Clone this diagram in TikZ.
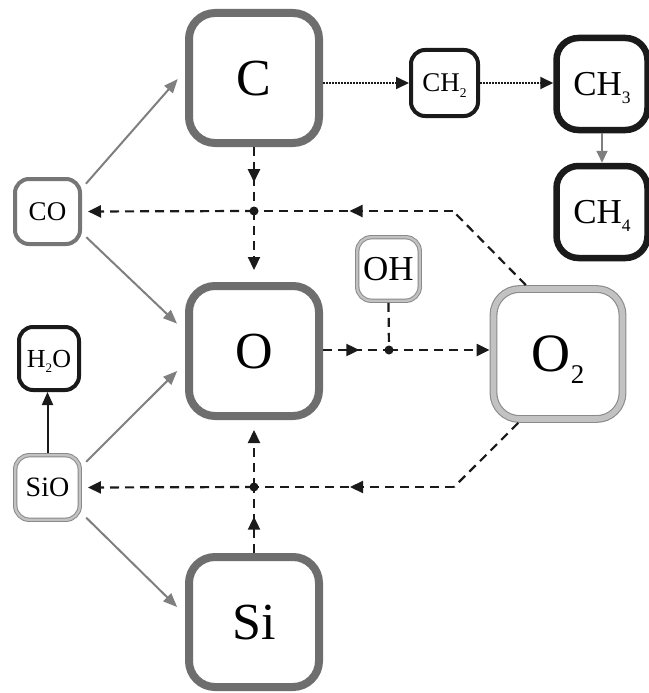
\documentclass[tikz,border=0pt]{standalone}
\usepackage{fontspec}
\setmainfont{Liberation Serif}
\usepackage{graphicx}
\usetikzlibrary{arrows.meta,decorations.markings,calc}

\definecolor{boxgray}{HTML}{6E6E6E}
\definecolor{smallgray}{HTML}{767676}
\definecolor{arrowgray}{HTML}{7F7F7F}
\definecolor{palegray}{HTML}{C2C2C2}
\definecolor{rimgray}{HTML}{8A8A8A}
\definecolor{inkblack}{HTML}{1A1A1A}

% chemical subscript: small, lowered digit
\newcommand\chsub[1]{\raisebox{-0.22em}{\scalebox{0.5}{#1}}}

\begin{document}
\begin{tikzpicture}[x=1pt,y=-1pt,
  every node/.style={inner sep=0pt, text depth=0pt, fill=white},
  bigbox/.style={draw=boxgray, line width=8pt, rounded corners=26pt,
    minimum width=130pt, minimum height=130pt, font=\fontsize{52}{52}\selectfont},
  blackbig/.style={draw=inkblack, line width=6.5pt, rounded corners=22pt,
    minimum width=91pt, minimum height=92pt, font=\fontsize{35}{35}\selectfont},
  blacksmall/.style={draw=inkblack, line width=4pt, rounded corners=14pt},
  graysmall/.style={draw=smallgray, line width=4pt, rounded corners=14pt},
  ringsmall/.style={draw=rimgray, line width=1pt, double=palegray,
    double distance=2.4pt, rounded corners=14pt, outer sep=2.2pt},
  ringbig/.style={draw=rimgray, line width=1.1pt, double=palegray,
    double distance=5.6pt, rounded corners=26pt, minimum width=129pt,
    minimum height=130pt, outer sep=3.9pt, font=\fontsize{54}{54}\selectfont},
  grayarrow/.style={draw=arrowgray, line width=2pt,
    -{Triangle[length=14pt,width=11pt]}, shorten <=6pt, shorten >=11pt},
  blackarrow/.style={draw=inkblack, line width=2pt,
    -{Triangle[length=13pt,width=11pt]}},
  dashline/.style={draw=inkblack, line width=2.2pt, dash pattern=on 9pt off 6pt},
  endtip/.style={-{Triangle[length=13pt,width=12pt]}},
  midtip/.style={postaction={decorate}, decoration={markings,
    mark=at position #1 with {\arrow{Triangle[length=13pt,width=12pt]}}}},
  dotline/.style={draw=inkblack, line width=1.8pt, dash pattern=on 1.5pt off 1.5pt,
    -{Triangle[length=13pt,width=12pt]}}
]
\useasboundingbox (0,0) rectangle (648,693);

% species boxes
\node[bigbox] (C)  at (254,78)  {C};
\node[bigbox] (O)  at (254,351) {O};
\node[bigbox] (Si) at (254,622) {Si};
\node[ringbig] (O2) at (558,354) {O\chsub{2}};
\node[blackbig] (CH3) at (602,84)  {CH\chsub{3}};
\node[blackbig] (CH4) at (602,212) {CH\chsub{4}};
\node[blacksmall, minimum width=67pt, minimum height=66pt,
  font=\fontsize{27}{27}\selectfont] (CH2) at (444.5,83) {CH\chsub{2}};
\node[graysmall, minimum width=65pt, minimum height=65pt,
  font=\fontsize{27}{27}\selectfont] (CO) at (47.5,211.5) {CO};
\node[blacksmall, minimum width=60pt, minimum height=63pt,
  font=\fontsize{26}{26}\selectfont] (H2O) at (49,358.5) {H\chsub{2}O};
\node[ringsmall, minimum width=64.5pt, minimum height=64.5pt,
  font=\fontsize{28}{28}\selectfont] (SiO) at (47.5,487.5) {SiO};
\node[ringsmall, minimum width=62.5pt, minimum height=63.5pt,
  font=\fontsize{35}{35}\selectfont] (OH) at (388.5,269) {OH};

% junctions and bends
\coordinate (jtop) at (254,211);
\coordinate (jmid) at (389,350);
\coordinate (jbot) at (254,487);
\coordinate (btop) at (453,211);
\coordinate (bbot) at (454,487);

% gray reaction arrows
\draw[grayarrow] (CO.34)   -- (C.174);
\draw[grayarrow] (CO.-32)  -- (O.164);
\draw[grayarrow] (SiO.32)  -- (O.190);
\draw[grayarrow] (SiO.-37) -- (Si.174);
\draw[draw=arrowgray, line width=2pt, -{Triangle[length=12pt,width=11pt]}]
  (CH3.south) -- (CH4.north);

% SiO to water
\draw[blackarrow] (SiO.north) -- (SiO.north |- H2O.south);

% dotted hydrogenation chain
\draw[dotline] (C.east |- CH2.west) -- (CH2.west);
\draw[dotline] (CH2.east) -- (CH2.east -| CH3.west);

% dashed network
\draw[dashline, midtip=0.55] (C.south) -- (jtop);
\draw[dashline, endtip, shorten >=12pt] (jtop) -- (O.north);
\draw[dashline] (O2.115) -- (btop);
\draw[dashline, midtip=0.52] (btop) -- (jtop);
\draw[dashline, endtip, shorten >=6pt] (jtop) -- (CO.east);

\draw[dashline, midtip=0.55] (O.east |- jmid) -- (jmid);
\draw[dashline, endtip] (jmid) -- (jmid -| O2.west);
\draw[dashline] (OH.south) -- (jmid);

\draw[dashline, midtip=0.55] (Si.north) -- (jbot);
\draw[dashline, endtip, shorten >=10pt] (jbot) -- (O.south);
\draw[dashline] (O2.240) -- (bbot);
\draw[dashline, midtip=0.52] (bbot) -- (jbot);
\draw[dashline, endtip, shorten >=6pt] (jbot) -- (SiO.east);

\fill[inkblack] (jtop) circle (4.5pt);
\fill[inkblack] (jmid) circle (4.5pt);
\fill[inkblack] (jbot) circle (4.5pt);
\end{tikzpicture}
\end{document}
